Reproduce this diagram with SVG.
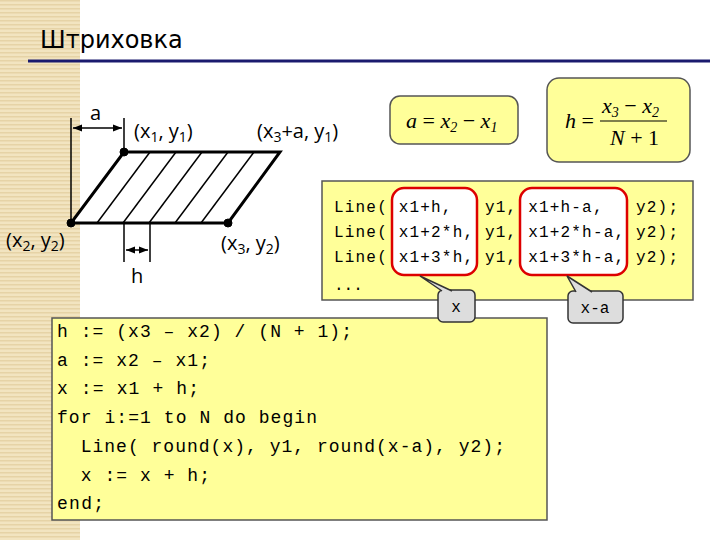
<svg xmlns="http://www.w3.org/2000/svg" width="720" height="540" viewBox="0 0 720 540">
<defs>
<pattern id="st" width="8" height="4" patternUnits="userSpaceOnUse"><rect width="8" height="4" fill="#f2e4c0"/><rect width="8" height="1.5" fill="#e6d3a6"/></pattern>
<marker id="ar" viewBox="0 0 10 10" refX="10" refY="5" markerWidth="6" markerHeight="6" orient="auto-start-reverse"><path d="M0,1 L10,5 L0,9 z" fill="#000"/></marker>
</defs>
<style>
.lbl{font-family:"Open Sans","DejaVu Sans",sans-serif;font-size:20px;fill:#000}
.code{font-family:"Liberation Mono",monospace;fill:#000}
.box{fill:#ffff99;stroke:#555;stroke-width:1.5}
.red{fill:#fff;stroke:#d00;stroke-width:2.5}
.call{fill:#ddd;stroke:#333;stroke-width:1.5}
.math{font-family:"Liberation Serif",serif;font-style:italic;font-size:22px}
</style>
<rect width="720" height="540" fill="#fff"/>
<rect x="0" y="0" width="80" height="540" fill="url(#st)"/>
<text x="40" y="48" style="font-family:'DejaVu Sans',sans-serif;font-size:24px">Штриховка</text>
<line x1="28" y1="61" x2="710" y2="61" stroke="#1a1a6e" stroke-width="3"/>
<g id="figure" stroke="#000">
<polygon points="124,152 280,152 228,223 71,223" fill="#fff" stroke-width="3"/>
<g stroke-width="1.5">
<line x1="150" y1="152" x2="97" y2="223"/><line x1="176" y1="152" x2="123" y2="223"/><line x1="202" y1="152" x2="149" y2="223"/><line x1="228" y1="152" x2="175" y2="223"/><line x1="254" y1="152" x2="201" y2="223"/>
<line x1="71" y1="118" x2="71" y2="223"/><line x1="124" y1="118" x2="124" y2="152"/>
<line x1="73" y1="128" x2="122" y2="128" marker-start="url(#ar)" marker-end="url(#ar)"/>
<line x1="124" y1="223" x2="124" y2="262"/><line x1="150" y1="223" x2="150" y2="262"/>
<line x1="126" y1="250" x2="148" y2="250" marker-start="url(#ar)" marker-end="url(#ar)"/>
</g>
<circle cx="124" cy="152" r="4" fill="#000"/><circle cx="71" cy="223" r="4" fill="#000"/><circle cx="228" cy="223" r="4" fill="#000"/>
</g>
<g id="labels" class="lbl">
<text x="90" y="120">a</text>
<text x="134" y="138">(x<tspan font-size="14" dy="4">1</tspan><tspan dy="-4">, y</tspan><tspan font-size="14" dy="4">1</tspan><tspan dy="-4">)</tspan></text>
<text x="257" y="138">(x<tspan font-size="14" dy="4">3</tspan><tspan dy="-4">+a, y</tspan><tspan font-size="14" dy="4">1</tspan><tspan dy="-4">)</tspan></text>
<text x="6" y="247">(x<tspan font-size="14" dy="4">2</tspan><tspan dy="-4">, y</tspan><tspan font-size="14" dy="4">2</tspan><tspan dy="-4">)</tspan></text>
<text x="221" y="250">(x<tspan font-size="14" dy="4">3</tspan><tspan dy="-4">, y</tspan><tspan font-size="14" dy="4">2</tspan><tspan dy="-4">)</tspan></text>
<text x="131" y="283">h</text>
</g>
<g id="formulaA"><rect x="390" y="96" width="128" height="48" rx="10" class="box"/>
<text x="406" y="128" class="math">a <tspan font-style="normal">=</tspan> x<tspan font-size="14" dy="4">2</tspan><tspan dy="-4" font-style="normal"> − </tspan>x<tspan font-size="14" dy="4">1</tspan></text></g>
<g id="formulaH"><rect x="547" y="78" width="143" height="84" rx="12" class="box"/>
<text x="565" y="128" class="math">h<tspan font-style="normal"> =</tspan></text>
<text x="602" y="113" class="math">x<tspan font-size="14" dy="4">3</tspan><tspan dy="-4" font-style="normal"> − </tspan>x<tspan font-size="14" dy="4">2</tspan></text>
<line x1="600" y1="121" x2="667" y2="121" stroke="#000" stroke-width="1.2"/>
<text x="610" y="145" class="math">N<tspan font-style="normal"> + 1</tspan></text></g>
<g id="codeTop">
<rect x="322" y="181" width="371" height="119" class="box"/>
<rect x="392" y="188" width="85" height="87" rx="12" class="red"/>
<rect x="520" y="188" width="107" height="87" rx="12" class="red"/>
<g class="code" font-size="16">
<text x="334" y="212" xml:space="preserve" textLength="344" lengthAdjust="spacing">Line( x1+h,   y1, x1+h-a,   y2);</text>
<text x="334" y="237" xml:space="preserve" textLength="344" lengthAdjust="spacing">Line( x1+2*h, y1, x1+2*h-a, y2);</text>
<text x="334" y="262" xml:space="preserve" textLength="344" lengthAdjust="spacing">Line( x1+3*h, y1, x1+3*h-a, y2);</text>
<text x="334" y="290">...</text></g>
</g>
<g id="codeMain"><rect x="52" y="318" width="495" height="202" class="box"/>
<g class="code" font-size="18">
<text x="57" y="337" textLength="295" lengthAdjust="spacing">h := (x3 – x2) / (N + 1);</text>
<text x="57" y="366" textLength="153" lengthAdjust="spacing">a := x2 – x1;</text>
<text x="57" y="394" textLength="142" lengthAdjust="spacing">x := x1 + h;</text>
<text x="57" y="423" textLength="260" lengthAdjust="spacing">for i:=1 to N do begin</text>
<text x="57" y="452" xml:space="preserve" textLength="448" lengthAdjust="spacing">  Line( round(x), y1, round(x-a), y2);</text>
<text x="57" y="481" xml:space="preserve" textLength="153" lengthAdjust="spacing">  x := x + h;</text>
<text x="57" y="509" textLength="47" lengthAdjust="spacing">end;</text></g></g>
<g id="callouts">
<rect x="438" y="290" width="37" height="32" rx="5" class="call"/>
<path d="M442,291 L420,276 L452,291" class="call"/>
<rect x="568" y="291" width="55" height="32" rx="5" class="call"/>
<path d="M576,292 L567,276 L592,292" class="call"/>
<text x="456" y="312" text-anchor="middle" class="code" font-size="16">x</text>
<text x="595" y="313" text-anchor="middle" class="code" font-size="16">x-a</text>
</g>
</svg>
